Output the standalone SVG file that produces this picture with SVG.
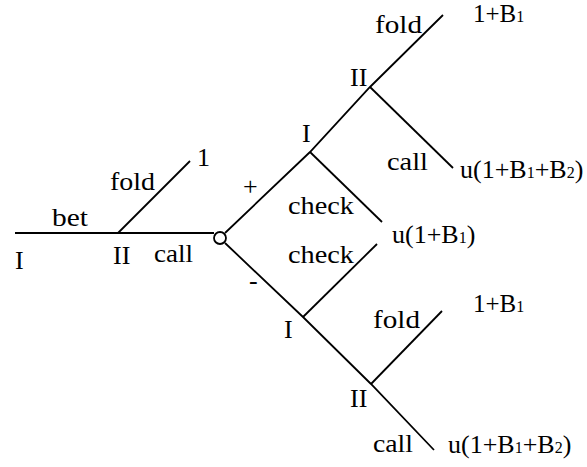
<svg xmlns="http://www.w3.org/2000/svg" width="587" height="467" viewBox="0 0 587 467">
  <style>
    text { font-family: "Liberation Serif", "Times New Roman", serif; font-size: 26px; fill: #000; }
    .sub { font-size: 16px; }
    .small { font-size: 25px; }
    .edge { fill: none; stroke: #000; stroke-width: 1.8; stroke-linecap: butt; stroke-linejoin: miter; }
    .chance { fill: #fff; stroke: #000; stroke-width: 1.8; }
  </style>

  <!-- game tree branches -->
  <g id="connectors">
    <line class="edge" x1="15" y1="233" x2="214" y2="233"/>
    <line class="edge" x1="118" y1="233" x2="190" y2="161"/>
    <polyline class="edge" points="225,233 310,152 370,87 443,15"/>
    <line class="edge" x1="310" y1="152" x2="382" y2="222"/>
    <line class="edge" x1="370" y1="87" x2="453" y2="168"/>
    <polyline class="edge" points="225,243 303,317 371,384 434,450"/>
    <line class="edge" x1="303" y1="317" x2="377" y2="244"/>
    <line class="edge" x1="371" y1="384" x2="442" y2="311"/>

    <!-- action labels -->
    <text x="52" y="226" textLength="36" lengthAdjust="spacingAndGlyphs">bet</text>
    <text x="110" y="190" textLength="45" lengthAdjust="spacingAndGlyphs">fold</text>
    <text x="154" y="262" textLength="39" lengthAdjust="spacingAndGlyphs">call</text>
    <text x="243" y="195">+</text>
    <text x="249" y="289">-</text>
    <text x="288" y="214" textLength="66" lengthAdjust="spacingAndGlyphs">check</text>
    <text x="288" y="263" textLength="66" lengthAdjust="spacingAndGlyphs">check</text>
    <text x="375" y="33" textLength="47" lengthAdjust="spacingAndGlyphs">fold</text>
    <text x="387" y="170" textLength="41" lengthAdjust="spacingAndGlyphs">call</text>
    <text x="373" y="328" textLength="47" lengthAdjust="spacingAndGlyphs">fold</text>
    <text x="373" y="452" textLength="40" lengthAdjust="spacingAndGlyphs">call</text>
  </g>

  <!-- decision nodes -->
  <g id="node-root"><text x="15" y="269">I</text></g>
  <g id="node-p2"><text x="113" y="264">II</text></g>
  <g id="node-chance"><circle class="chance" cx="220" cy="238" r="6"/></g>
  <g id="node-p1-plus"><text x="302" y="142">I</text></g>
  <g id="node-p2-plus"><text x="350" y="86">II</text></g>
  <g id="node-p1-minus"><text x="284" y="338">I</text></g>
  <g id="node-p2-minus"><text x="350" y="407">II</text></g>

  <!-- payoffs -->
  <g id="payoff-fold"><text x="197" y="166">1</text></g>
  <g id="payoff-plus-fold"><text class="small" x="473" y="22">1+B<tspan class="sub">1</tspan></text></g>
  <g id="payoff-plus-call"><text x="460" y="178">u(1+B<tspan class="sub">1</tspan>+B<tspan class="sub">2</tspan>)</text></g>
  <g id="payoff-check"><text x="392" y="243">u(1+B<tspan class="sub">1</tspan>)</text></g>
  <g id="payoff-minus-fold"><text class="small" x="473" y="312">1+B<tspan class="sub">1</tspan></text></g>
  <g id="payoff-minus-call"><text x="448" y="453">u(1+B<tspan class="sub">1</tspan>+B<tspan class="sub">2</tspan>)</text></g>
</svg>
